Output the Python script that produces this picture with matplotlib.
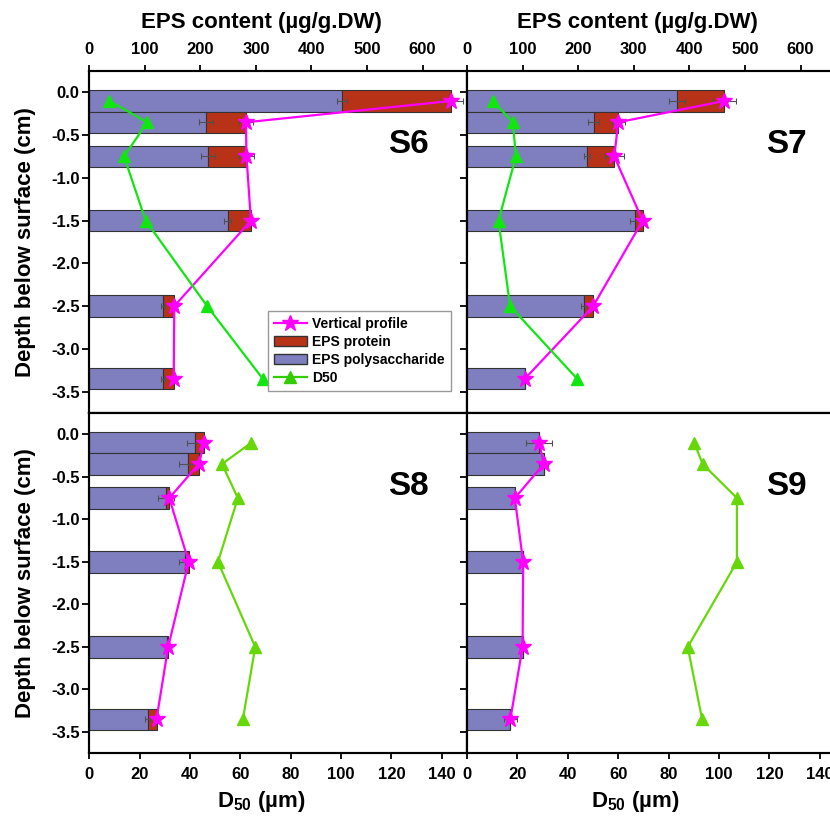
import matplotlib
matplotlib.use('Agg')
import matplotlib.pyplot as plt
from matplotlib.lines import Line2D
from matplotlib.patches import Patch

plt.rcParams['font.family'] = ['Liberation Sans', 'DejaVu Sans']
plt.rcParams['font.weight'] = 'bold'
plt.rcParams['axes.unicode_minus'] = False
plt.rcParams['mathtext.fontset'] = 'custom'
plt.rcParams['mathtext.rm'] = 'Liberation Sans:bold'
plt.rcParams['mathtext.it'] = 'Liberation Sans:bold'
plt.rcParams['mathtext.bf'] = 'Liberation Sans:bold'

# sampling depths (cm), same for every site
depth = [-0.1, -0.35, -0.75, -1.5, -2.5, -3.35]
sites = ['S6', 'S7', 'S8', 'S9']

# EPS polysaccharide / protein (ug/g.DW)
poly_s6 = [455, 210, 214, 249, 133, 133]
prot_s6 = [197, 72, 69, 42, 20, 19]
poly_s7 = [378, 228, 216, 303, 210, 104]
prot_s7 = [85, 44, 49, 13, 17, 0]
poly_s8 = [191, 178, 138, 173, 140, 105]
prot_s8 = [16, 19, 6, 6, 2, 16]
poly_s9 = [130, 138, 86, 101, 100, 78]
prot_s9 = [0, 0, 0, 0, 0, 0]

# error bars on polysaccharide and on total EPS
poly_err_s6 = [8.5, 12, 12, 7, 4, 4]
tot_err_s6 = [20, 12, 14, 5, 3, 3]
poly_err_s7 = [14.5, 10, 6, 10, 5, 0]
tot_err_s7 = [21, 12, 17, 4, 3, 3]
poly_err_s8 = [16, 17, 14, 11, 3, 5]
tot_err_s8 = [4, 4, 4, 4, 2, 3]
poly_err_s9 = [0, 0, 0, 0, 0, 0]
tot_err_s9 = [23, 8, 4, 3, 3, 12]

# median grain size D50 (um)
d50_s6 = [7.9, 23.0, 13.8, 22.4, 46.8, 68.9]
d50_s7 = [10.3, 18.2, 19.4, 12.5, 17.1, 43.7]
d50_s8 = [64.3, 52.7, 59.0, 51.1, 65.9, 61.0]
d50_s9 = [90.2, 93.5, 107.1, 107.1, 87.6, 93.3]

eps_ticks = [0, 100, 200, 300, 400, 500, 600]
d50_ticks = [0, 20, 40, 60, 80, 100, 120, 140]
depth_ticks = [0.0, -0.5, -1.0, -1.5, -2.0, -2.5, -3.0, -3.5]

poly_c = '#7f7fbf'
prot_c = '#b83218'
star_c = '#ff00ff'
green_top = '#11e611'
green_bot = '#66d80a'
err_c = '#505050'

polys = [poly_s6, poly_s7, poly_s8, poly_s9]
prots = [prot_s6, prot_s7, prot_s8, prot_s9]
poly_errs = [poly_err_s6, poly_err_s7, poly_err_s8, poly_err_s9]
tot_errs = [tot_err_s6, tot_err_s7, tot_err_s8, tot_err_s9]
d50s = [d50_s6, d50_s7, d50_s8, d50_s9]

W, H = 830, 816
fig = plt.figure(figsize=(W / 100, H / 100), dpi=100)

# panel boxes in pixels: left, top, right, bottom (right column runs past the edge, as in the original)
boxes = [(89.3, 71, 467, 413), (467, 71, 845, 413),
         (89.3, 413, 467, 753.3), (467, 413, 845, 753.3)]

for i, site in enumerate(sites):
    l, t, r, b = boxes[i]
    ax = fig.add_axes([l / W, 1 - b / H, (r - l) / W, (b - t) / H])
    top_row = i < 2
    left_col = i % 2 == 0

    total = [p + q for p, q in zip(polys[i], prots[i])]
    ax.barh(depth, polys[i], height=0.25, color=poly_c, edgecolor='#333333', lw=0.8, zorder=2)
    ax.barh(depth, prots[i], left=polys[i], height=0.25, color=prot_c, edgecolor='#333333', lw=0.8, zorder=2)
    ax.errorbar(polys[i], depth, xerr=poly_errs[i], fmt='none', ecolor=err_c, elinewidth=0.8,
                capsize=2.5, capthick=0.8, zorder=3)
    ax.errorbar(total, depth, xerr=tot_errs[i], fmt='none', ecolor=err_c, elinewidth=0.8,
                capsize=2.5, capthick=0.8, zorder=3)
    ax.plot(total, depth, color=star_c, marker='*', ms=12, lw=1.6, zorder=5)
    ax.set_xlim(0, 680)
    ax.set_ylim(-3.75, 0.25)

    ax2 = ax.twiny()
    ax2.plot(d50s[i], depth, color=green_top if top_row else green_bot, marker='^', ms=8, lw=1.6, zorder=4)
    ax2.set_xlim(0, 150)

    for a in (ax, ax2):
        for s in a.spines.values():
            s.set_linewidth(1.5)

    if top_row:
        ax.xaxis.tick_top()
        ax.set_xticks(eps_ticks)
        ax.tick_params(axis='x', direction='out', length=4, width=1.3, pad=6, labelsize=12)
        ax2.set_xticks([])
        lx = 0.457 if left_col else 0.45
        ax.text(lx, 1.127, 'EPS content (µg/g.DW)', transform=ax.transAxes, ha='center',
                va='baseline', fontsize=16, fontweight='bold')
    else:
        ax.set_xticks([])
        ax2.xaxis.set_ticks_position('bottom')
        ax2.set_xticks(d50_ticks)
        ax2.tick_params(axis='x', direction='out', length=4, width=1.3, pad=6, labelsize=12)
        lx = 0.456 if left_col else 0.446
        ax.text(lx, -0.157, r'D$_{50}$ (µm)', transform=ax.transAxes, ha='center',
                va='baseline', fontsize=16, fontweight='bold')

    ax.set_yticks(depth_ticks)
    ax.tick_params(axis='y', direction='out', length=5, width=1.3, pad=2, labelsize=12)
    if left_col:
        ax.set_yticklabels(['%.1f' % d for d in depth_ticks])
        ax.set_ylabel('Depth below surface (cm)', fontsize=16, fontweight='bold')
        ax.yaxis.set_label_coords(-0.142, 0.5)
    else:
        ax.set_yticklabels([])

    ax.text(0.845, 0.785, site, transform=ax.transAxes, ha='center', va='center',
            fontsize=24, fontweight='bold', zorder=6)

    if i == 0:
        handles = [
            Line2D([], [], color=star_c, marker='*', ms=12, lw=1.6, label='Vertical profile'),
            Patch(facecolor=prot_c, edgecolor='#333333', label='EPS protein'),
            Patch(facecolor=poly_c, edgecolor='#333333', label='EPS polysaccharide'),
            Line2D([], [], color='#33cc00', marker='^', ms=8, lw=1.6, label='D50'),
        ]
        leg = ax2.legend(handles=handles, loc='lower right', bbox_to_anchor=(0.975, 0.045),
                         fontsize=10, fancybox=False, framealpha=1, edgecolor='#999999',
                         handlelength=2.4, labelspacing=0.3, borderpad=0.4, handletextpad=0.4)
        leg.get_frame().set_linewidth(1.0)
        leg.set_zorder(10)

fig.savefig('out.png', dpi=100)
